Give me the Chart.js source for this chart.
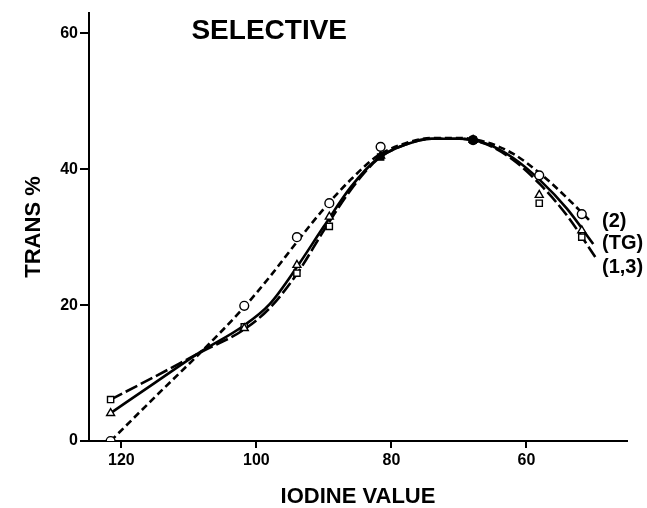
<!DOCTYPE html>
<html>
<head>
<meta charset="utf-8">
<script src="https://cdn.jsdelivr.net/npm/chart.js@4"></script>
<style>
  html, body { margin: 0; padding: 0; background: #fff; }
</style>
</head>
<body>
<canvas id="myChart" width="647" height="508"></canvas>
<script>
// tick labels
const xTicks = [120, 100, 80, 60];
const yTicks = [0, 20, 40, 60];

// measured points (iodine value, trans %)
const iodine = [121.6, 101.8, 94.0, 89.2, 81.6, 67.9, 58.1, 51.8];
const trans2 = [0, 19.9, 30.0, 35.0, 43.3, 44.3, 39.1, 33.4];
const transTG = [4.1, 16.6, 25.9, 33.0, 42.0, 44.3, 36.2, 31.0];
const trans13 = [6.1, 16.8, 24.7, 31.6, 41.8, 44.3, 35.0, 30.0];

// fitted curves
const curveX = [121.6, 115, 108, 102, 98, 94, 90, 86, 82, 78, 74, 70, 66, 62, 58, 54];
const curve2 = [0, 6.5, 13.3, 19.5, 24.2, 29.3, 34.2, 38.5, 42.0, 43.8, 44.6, 44.6, 44.0, 42.3, 39.4, 35.8];
const curveTG = [4.1, 8.6, 13.3, 16.9, 20.2, 25.6, 31.6, 37.4, 41.6, 43.6, 44.5, 44.5, 43.8, 41.7, 38.4, 34.2];
const curve13 = [6.1, 9.5, 13.2, 16.3, 19.6, 24.6, 31.0, 37.0, 41.5, 43.6, 44.5, 44.5, 43.7, 41.4, 37.8, 33.2];
const curveEnd2 = [50.6, 32.4];
const curveEndTG = [50.1, 29.0];
const curveEnd13 = [49.8, 27.1];

const seriesNames = ['(2)', '(TG)', '(1,3)'];

const FONT = '"Liberation Sans", Arial, Helvetica, sans-serif';

function pts(xs, ys) {
  return xs.map((x, i) => ({ x: x, y: ys[i] }));
}
function curve(ys, end) {
  const p = pts(curveX, ys);
  p.push({ x: end[0], y: end[1] });
  return p;
}

// markers lying on the merged part of the curve look solid
function markerFill(onCurve) {
  return ctx => onCurve.includes(ctx.dataIndex) ? '#000' : '#fff';
}

const lineBase = {
  showLine: true,
  pointRadius: 0,
  borderColor: '#000',
  borderWidth: 2.6,
  fill: false,
  cubicInterpolationMode: 'monotone',
  order: 2
};
const markBase = {
  showLine: false,
  borderColor: '#000',
  pointBorderColor: '#000',
  pointBorderWidth: 1.4,
  order: 1
};

const labelPlugin = {
  id: 'labels',
  afterDraw(chart) {
    const { ctx, scales: { x, y } } = chart;
    ctx.save();
    ctx.fillStyle = '#000';
    ctx.textBaseline = 'middle';
    ctx.font = 'bold 28px ' + FONT;
    ctx.textAlign = 'center';
    ctx.fillText('SELECTIVE', x.getPixelForValue(98.1), y.getPixelForValue(60.3));
    ctx.font = 'bold 20px ' + FONT;
    ctx.textAlign = 'left';
    const ys = [32.3, 29.0, 25.5];
    seriesNames.forEach((t, i) => {
      ctx.fillText(t, x.getPixelForValue(48.8), y.getPixelForValue(ys[i]));
    });
    ctx.restore();
  }
};

const ctx = document.getElementById('myChart').getContext('2d');
const myChart = new Chart(ctx, {
  type: 'scatter',
  data: {
    datasets: [
      Object.assign({ label: seriesNames[0], data: curve(curve2, curveEnd2), borderDash: [7, 4] }, lineBase),
      Object.assign({ label: seriesNames[1], data: curve(curveTG, curveEndTG) }, lineBase),
      Object.assign({ label: seriesNames[2], data: curve(curve13, curveEnd13), borderDash: [13, 4] }, lineBase),
      Object.assign({ label: 'o', data: pts(iodine, trans2), pointStyle: 'circle', pointRadius: 4.4,
        pointBackgroundColor: markerFill([5]) }, markBase),
      Object.assign({ label: 't', data: pts(iodine, transTG), pointStyle: 'triangle', pointRadius: 4.6,
        pointBackgroundColor: markerFill([4, 5]) }, markBase),
      Object.assign({ label: 's', data: pts(iodine, trans13), pointStyle: 'rect', pointRadius: 4.4,
        pointBackgroundColor: markerFill([4, 5]) }, markBase)
    ]
  },
  options: {
    responsive: false,
    animation: false,
    devicePixelRatio: 1,
    layout: { padding: { top: 13, right: 20, left: 0, bottom: 0 } },
    plugins: {
      legend: { display: false },
      tooltip: { enabled: false }
    },
    scales: {
      x: {
        type: 'linear',
        reverse: true,
        min: 45.1,
        max: 124.8,
        afterFit: s => { s.height = 67; },
        afterBuildTicks: s => { s.ticks = xTicks.map(v => ({ value: v })); },
        border: { display: true, color: '#000', width: 2 },
        grid: { drawOnChartArea: false, drawTicks: true, tickLength: 7, color: '#000', lineWidth: 2 },
        ticks: { color: '#000', padding: 3, font: { family: FONT, size: 16, weight: 'bold' } },
        title: {
          display: true,
          text: 'IODINE VALUE',
          color: '#000',
          padding: { top: 0, bottom: -2 },
          font: { family: FONT, size: 22, weight: 'bold' }
        }
      },
      y: {
        type: 'linear',
        min: 0,
        max: 63,
        afterFit: s => { s.width = 89; },
        afterBuildTicks: s => { s.ticks = yTicks.map(v => ({ value: v })); },
        border: { display: true, color: '#000', width: 2 },
        grid: { drawOnChartArea: false, drawTicks: true, tickLength: 9, color: '#000', lineWidth: 2 },
        ticks: { color: '#000', padding: 2, font: { family: FONT, size: 16, weight: 'bold' } },
        title: {
          display: true,
          text: 'TRANS %',
          color: '#000',
          padding: { top: 21, bottom: 0 },
          font: { family: FONT, size: 22, weight: 'bold' }
        }
      }
    }
  },
  plugins: [labelPlugin]
});
</script>
</body>
</html>
